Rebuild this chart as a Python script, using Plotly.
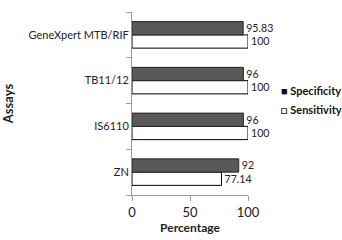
import plotly.graph_objects as go

categories = ["ZN", "IS6110", "TB11/12", "GeneXpert MTB/RIF"]
specificity = [92, 96, 96, 95.83]
sensitivity = [77.14, 100, 100, 100]
x_ticks = [0, 50, 100]
legend_labels = ["■ Specificity", "□ Sensitivity"]

fig = go.Figure()
fig.add_trace(go.Bar(
    y=categories, x=sensitivity, orientation="h", name="Sensitivity",
    marker=dict(color="white", line=dict(color="black", width=1)),
    text=[f"{v:g}" for v in sensitivity], textposition="outside",
    textfont=dict(size=12, color="#222"), cliponaxis=False,
))
fig.add_trace(go.Bar(
    y=categories, x=specificity, orientation="h", name="Specificity",
    marker=dict(color="#595959", line=dict(color="#262626", width=1)),
    text=[f"{v:g}" for v in specificity], textposition="outside",
    textfont=dict(size=12, color="#222"), cliponaxis=False,
))

for i, lab in enumerate(legend_labels):
    fig.add_annotation(xref="paper", yref="paper", x=1.265, y=0.57 - i * 0.105,
                       xanchor="left", yanchor="middle", showarrow=False,
                       text=f"<b>{lab}</b>", font=dict(size=11, family="Lato", color="#111"))

fig.update_layout(
    width=342, height=240,
    margin=dict(l=132, r=94, t=12, b=45, autoexpand=False),
    barmode="group", bargap=0.42, bargroupgap=0,
    paper_bgcolor="white", plot_bgcolor="white",
    font=dict(family="Lato, Open Sans, sans-serif", size=11, color="#222"),
    uniformtext=dict(minsize=10, mode="show"),
    showlegend=False,
    xaxis=dict(range=[0, 100], tickvals=x_ticks, showgrid=False,
               showline=True, linecolor="#9a9a9a", ticks="outside",
               tickcolor="#9a9a9a", ticklen=5, zeroline=False,
               tickfont=dict(size=13),
               title=dict(text="Percentage", font=dict(size=12, weight="bold"), standoff=3)),
    yaxis=dict(showgrid=False, showline=True, linecolor="#9a9a9a",
               ticks="outside", tickson="boundaries", tickcolor="#9a9a9a",
               ticklen=5, tickfont=dict(size=11),
               title=dict(text="Assays", font=dict(size=13, weight="bold"), standoff=16)),
)

fig.write_html("out.html", config={"displayModeBar": False},
               post_script="document.body.style.margin='0';")
